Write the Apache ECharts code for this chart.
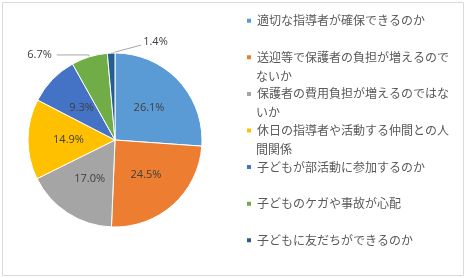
<!DOCTYPE html>
<html>
<head>
<meta charset="utf-8">
<script src="https://cdn.jsdelivr.net/npm/echarts@6/dist/echarts.min.js"></script>
<style>
    html, body { margin: 0; padding: 0; background: #fff; }
    #chart { width: 466px; height: 278px; }
</style>
</head>
<body>
<div id="chart"></div>
<script>
    // 項目名
    var categories = [
        '適切な指導者が確保できるのか',
        '送迎等で保護者の負担が増えるのではないか',
        '保護者の費用負担が増えるのではないか',
        '休日の指導者や活動する仲間との人間関係',
        '子どもが部活動に参加するのか',
        '子どものケガや事故が心配',
        '子どもに友だちができるのか'
    ];
    // 割合 (%)
    var values = [26.1, 24.5, 17.0, 14.9, 9.3, 6.7, 1.4];
    // 凡例の1行目と折り返し
    var legendFirst = [
        '適切な指導者が確保できるのか',
        '送迎等で保護者の負担が増えるので',
        '保護者の費用負担が増えるのではな',
        '休日の指導者や活動する仲間との人',
        '子どもが部活動に参加するのか',
        '子どものケガや事故が心配',
        '子どもに友だちができるのか'
    ];
    var legendRest = ['', 'ないか', 'いか', '間関係', '', '', ''];

    var colors = ['#5B9BD5', '#ED7D31', '#A5A5A5', '#FFC000', '#4472C4', '#70AD47', '#255E91'];

    var legendTop = 20.7,
        legendPitch = 36.6,
        lineH = 16;

    var myChart = echarts.init(document.getElementById('chart'));

    var pieData = [];
    for (var i = 0; i < categories.length; i++) {
        var d = { name: categories[i], value: values[i] };
        // 小さい2つは外側ラベル
        if (i >= 5) {
            d.label = { position: 'outside' };
            d.labelLine = { show: true, length: 2, length2: 32 };
        }
        pieData.push(d);
    }

    // 凡例の折り返し行
    var graphics = [{
        type: 'rect',
        silent: true,
        shape: { x: 2.5, y: 2.5, width: 461, height: 273 },
        style: { fill: 'none', stroke: '#D9D9D9', lineWidth: 1 }
    }];
    for (var j = 0; j < legendRest.length; j++) {
        if (!legendRest[j]) continue;
        graphics.push({
            type: 'text',
            silent: true,
            x: 256,
            y: legendTop + legendPitch * j + 19,
            style: {
                text: legendRest[j],
                fill: '#595959',
                font: '12px "Noto Sans CJK JP"',
                verticalAlign: 'middle'
            }
        });
    }

    var option = {
        color: colors,
        animation: false,
        legend: {
            orient: 'vertical',
            left: 245,
            top: legendTop - lineH / 2,
            padding: 0,
            itemWidth: 6,
            itemHeight: 6,
            itemGap: legendPitch - lineH,
            icon: 'rect',
            selectedMode: false,
            textStyle: {
                color: '#595959',
                fontSize: 12,
                lineHeight: lineH,
                fontFamily: 'Noto Sans CJK JP'
            },
            formatter: function(name) {
                return legendFirst[categories.indexOf(name)];
            },
            data: categories
        },
        graphic: graphics,
        series: [{
            type: 'pie',
            center: [115, 140],
            radius: 87,
            startAngle: 90,
            clockwise: true,
            avoidLabelOverlap: false,
            itemStyle: {
                borderColor: '#fff',
                borderWidth: 1
            },
            label: {
                show: true,
                position: 'inside',
                color: '#404040',
                fontSize: 11,
                fontFamily: 'Open Sans',
                formatter: function(p) {
                    return p.value.toFixed(1) + '%';
                }
            },
            labelLine: {
                lineStyle: { color: '#A6A6A6', width: 1 }
            },
            labelLayout: function(p) {
                // 1.4% は右上に出す
                if (p.dataIndex !== 6 || !p.labelLinePoints) {
                    return;
                }
                var s = p.labelLinePoints[0];
                return {
                    x: s[0] + 32,
                    y: s[1] - 11,
                    align: 'left',
                    verticalAlign: 'middle',
                    labelLinePoints: [s, [s[0] + 30, s[1] - 8]]
                };
            },
            data: pieData
        }]
    };

    myChart.setOption(option);
</script>
</body>
</html>
